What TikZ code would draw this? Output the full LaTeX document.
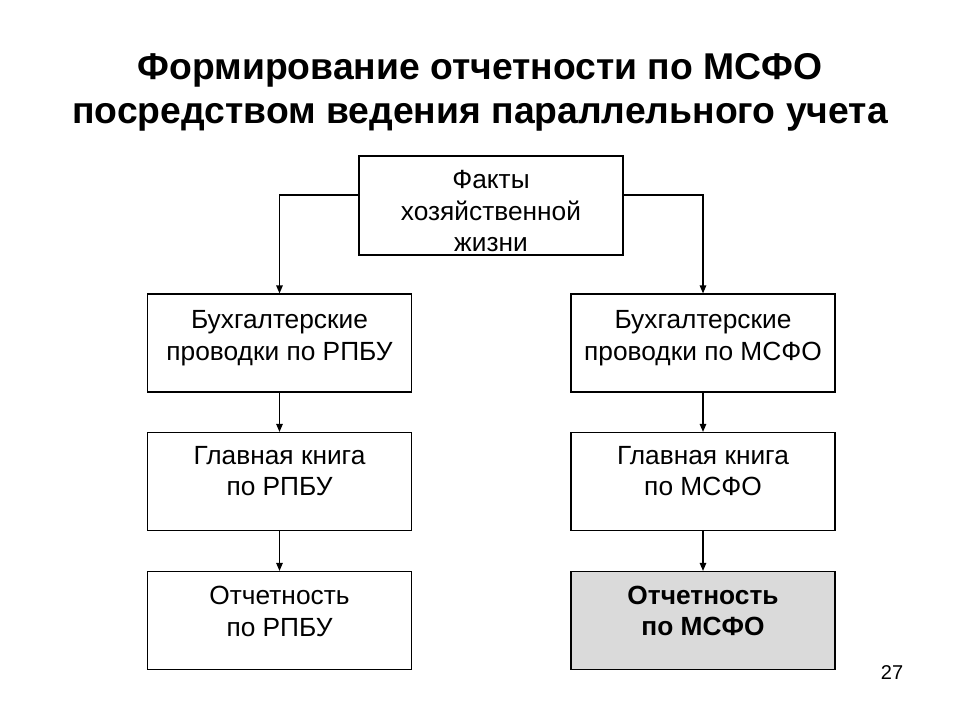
\documentclass[tikz,border=0pt]{standalone}
\usepackage{fontspec}
\setmainfont{Liberation Sans}
\usetikzlibrary{arrows.meta}
\definecolor{boxgray}{HTML}{DADADA}
\begin{document}
\begin{tikzpicture}[x=1pt,y=-1pt,
  box/.style={draw, line width=1.2pt, minimum width=264pt, minimum height=98pt, inner sep=0pt},
  txt/.style={font=\fontsize{26.3}{31.5}\selectfont, align=center, inner sep=0pt, anchor=north},
  titletxt/.style={font=\fontsize{37.3}{36}\selectfont\bfseries, anchor=base, inner sep=0pt},
  arr/.style={line width=1.2pt, -{Triangle[length=8pt,width=6.5pt]}}]
\useasboundingbox (0,0) rectangle (960,720);
% title
\node[titletxt] (title1) at (480,79) {Формирование отчетности по МСФО};
\node[titletxt] (title2) at (480,123) {посредством ведения параллельного учета};
% boxes
\node[box, minimum height=99pt] (top) at (491,205.5) {};
\node[box] (l1) at (279.5,343) {};
\node[box] (l2) at (279.5,481.5) {};
\node[box] (l3) at (279.5,620.5) {};
\node[box] (r1) at (703,343) {};
\node[box] (r2) at (703,481.5) {};
\node[box, fill=boxgray] (r3) at (703,620.5) {};
% texts
\node[txt] (ttop) at ([yshift=-15pt]top.north) {Факты\\хозяйственной\\жизни};
\node[txt] (tl1) at ([yshift=-17pt]l1.north) {Бухгалтерские\\проводки по РПБУ};
\node[txt] (tl2) at ([yshift=-14pt]l2.north) {Главная книга\\по РПБУ};
\node[txt] (tl3) at ([yshift=-15.5pt]l3.north) {Отчетность\\по РПБУ};
\node[txt] (tr1) at ([yshift=-17pt]r1.north) {Бухгалтерские\\проводки по МСФО};
\node[txt] (tr2) at ([yshift=-14pt]r2.north) {Главная книга\\по МСФО};
\node[txt, font=\fontsize{26.3}{31}\selectfont\bfseries] (tr3) at ([yshift=-15pt]r3.north) {Отчетность\\по МСФО};
% connectors
\draw[arr] ([yshift=10.5pt]top.west) -| (l1.north);
\draw[arr] ([yshift=10.5pt]top.east) -| (r1.north);
\draw[arr] (l1.south) -- (l2.north);
\draw[arr] (l2.south) -- (l3.north);
\draw[arr] (r1.south) -- (r2.north);
\draw[arr] (r2.south) -- (r3.north);
% page number
\node[font=\fontsize{20}{24}\selectfont, anchor=base, inner sep=0pt] (num) at (892,679) {27};
\end{tikzpicture}
\end{document}
